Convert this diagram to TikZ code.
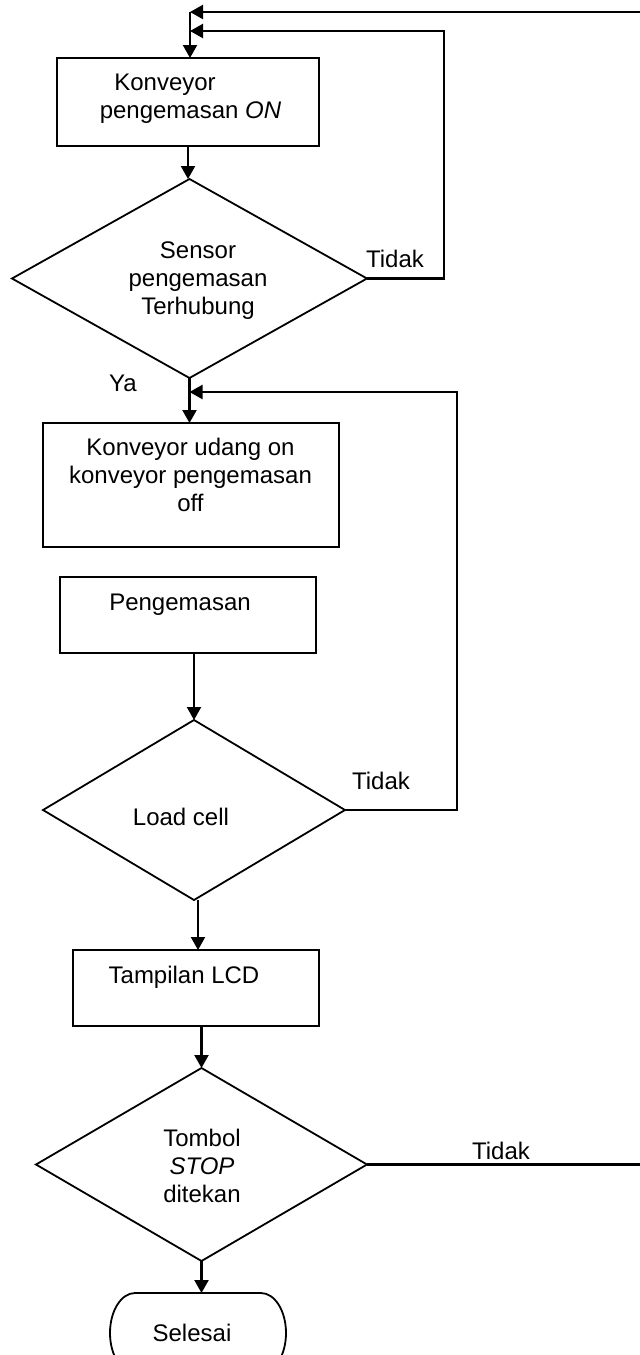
\documentclass[tikz,border=0pt]{standalone}
\usepackage{fontspec}
\setmainfont{Liberation Sans}
\usetikzlibrary{shapes.geometric,arrows.meta}
\begin{document}
\begin{tikzpicture}[x=0.5pt,y=-0.5pt,
  every node/.style={font=\fontsize{12}{13.8}\selectfont, inner sep=0pt, outer sep=0pt},
  boxshape/.style={draw, rectangle, line width=0.9pt},
  dia/.style={draw, diamond, line width=0.9pt},
  txt/.style={anchor=base, align=center},
  conn/.style={line width=1.1pt},
  arr/.style={line width=1.1pt, -{Triangle[length=6.5pt,width=7pt]}}]
\useasboundingbox (0,0) rectangle (640,1355);
\fill[white] (0,0) rectangle (640,1355);
\clip (0,0) rectangle (640,1355);

% shapes
\node[boxshape, minimum width=131pt, minimum height=44pt] (b1) at (188,102) {};
\node[dia, minimum width=177.5pt, minimum height=99.5pt] (d1) at (189.5,278.5) {};
\node[boxshape, minimum width=148pt, minimum height=62pt] (b2) at (191,485) {};
\node[boxshape, minimum width=128pt, minimum height=38pt] (b3) at (188,615) {};
\node[dia, minimum width=151pt, minimum height=90pt] (d2) at (194,810) {};
\node[boxshape, minimum width=123pt, minimum height=38pt] (b4) at (196,988) {};
\node[dia, minimum width=165.5pt, minimum height=96.5pt] (d3) at (201.5,1164.5) {};
\node[rectangle, minimum width=88pt, minimum height=40pt] (sel) at (198,1333) {};
\draw[line width=0.9pt] ([xshift=12.5pt]sel.north west) -- ([xshift=-12.5pt]sel.north east)
  arc[start angle=90, end angle=-90, x radius=12.5pt, y radius=20pt]
  -- ([xshift=12.5pt]sel.south west)
  arc[start angle=270, end angle=90, x radius=12.5pt, y radius=20pt] -- cycle;

% texts (base anchor = baseline of last line)
\node[txt] (t-b1) at (190.5,118) {Konveyor\rule{25.5pt}{0pt}\\pengemasan \textit{ON}};
\node[txt] (t-d1) at (198,314) {Sensor\\pengemasan\\Terhubung};
\node[txt] (t-b2) at (190.5,511) {Konveyor udang on\\konveyor pengemasan\\off};
\node[txt] (t-b3) at (180,610) {Pengemasan};
\node[txt] (t-d2) at (181,825) {Load cell};
\node[txt] (t-b4) at (184,983) {Tampilan LCD};
\node[txt] (t-d3) at (202,1202) {Tombol\\\textit{STOP}\\ditekan};
\node[txt] (t-sel) at (192,1341) {Selesai};

% labels
\node[txt] (l-d1) at (395,267) {Tidak};
\node[txt] (l-ya) at (123,391) {Ya};
\node[txt] (l-d2) at (381,789) {Tidak};
\node[txt] (l-d3) at (501,1159) {Tidak};

% join points
\coordinate (j1) at (190,12);
\coordinate (j2) at (190,31);
\coordinate (j3) at (189.5,392);

% connectors
\draw[arr] (j1) -- (j1 |- b1.north);
\draw[arr] (d3.east) -- ++(320,0) |- (j1);
\draw[arr] (d1.east) -- ++(77,0) |- (j2);
\draw[arr] (b1.south) -- (b1.south |- d1.north);
\draw[arr] (d1.south) -- (d1.south |- b2.north);
\draw[arr] (d2.east) -- ++(112,0) |- (j3);
\draw[arr] (b3.south -| d2.north) -- (d2.north);
\draw[arr] ([xshift=2pt]d2.south) -- ([xshift=2pt]d2.south |- b4.north);
\draw[arr] (b4.south -| d3.north) -- (d3.north);
\draw[arr] (d3.south) -- (d3.south |- sel.north);
\end{tikzpicture}
\end{document}
